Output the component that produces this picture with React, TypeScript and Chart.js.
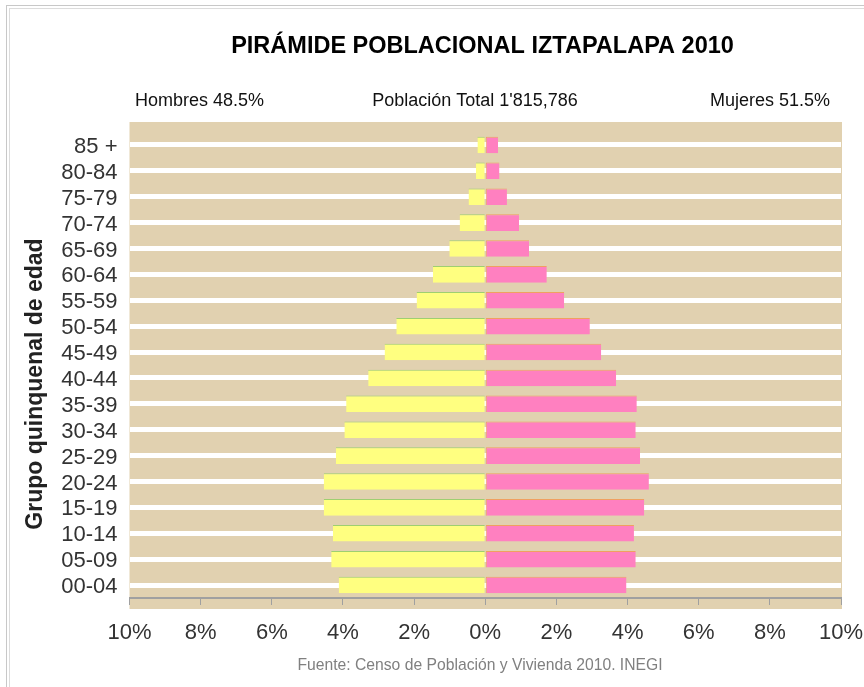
import React, { useEffect, useRef } from "react";
import { Chart, registerables } from "chart.js";

Chart.register(...registerables);

const AGE_GROUPS = [
  "85 +", "80-84", "75-79", "70-74", "65-69", "60-64", "55-59", "50-54", "45-49",
  "40-44", "35-39", "30-34", "25-29", "20-24", "15-19", "10-14", "05-09", "00-04",
];
// percent of total population
const HOMBRES = [0.22, 0.26, 0.47, 0.72, 1.01, 1.47, 1.93, 2.5, 2.83, 3.29, 3.91, 3.96, 4.2, 4.54, 4.54, 4.28, 4.33, 4.12];
const MUJERES = [0.36, 0.4, 0.61, 0.95, 1.23, 1.73, 2.22, 2.94, 3.26, 3.68, 4.26, 4.23, 4.35, 4.6, 4.47, 4.18, 4.23, 3.97];
const X_MIN = -10;
const X_MAX = 10;
const X_STEP = 2;

const TITLE = "PIRÁMIDE POBLACIONAL IZTAPALAPA 2010";
const LEFT_NOTE = "Hombres 48.5%";
const CENTER_NOTE = "Población Total 1'815,786";
const RIGHT_NOTE = "Mujeres 51.5%";
const Y_TITLE = "Grupo quinquenal de edad";
const SOURCE = "Fuente: Censo de Población y Vivienda 2010. INEGI";

const FONT = "'Liberation Sans', Arial, sans-serif";

const decorPlugin = {
  id: "decor",
  beforeDraw(chart: any) {
    const { ctx, chartArea } = chart;
    const { left, right, top, bottom } = chartArea;
    ctx.save();
    ctx.fillStyle = "#ffffff";
    ctx.fillRect(0, 0, chart.width, chart.height);
    // frame
    ctx.strokeStyle = "#c8c8c8";
    ctx.lineWidth = 1;
    ctx.strokeRect(6.5, 5.5, chart.width + 20, chart.height + 20);
    ctx.strokeStyle = "#dcdcdc";
    ctx.strokeRect(9.5, 8.5, chart.width + 20, chart.height + 20);
    // plot background
    ctx.fillStyle = "#e1d1b0";
    ctx.fillRect(left, top - 10, right - left + 1, bottom - top + 21);
    ctx.restore();
  },
  afterDraw(chart: any) {
    const { ctx } = chart;
    ctx.save();
    ctx.fillStyle = "#000";
    ctx.textBaseline = "middle";
    ctx.font = `bold 23.5px ${FONT}`;
    ctx.textAlign = "center";
    ctx.fillText(TITLE, 482.5, 47);
    ctx.font = `18px ${FONT}`;
    ctx.fillStyle = "#111";
    ctx.textAlign = "left";
    ctx.fillText(LEFT_NOTE, 135, 101);
    ctx.textAlign = "center";
    ctx.fillText(CENTER_NOTE, 475, 101);
    ctx.textAlign = "right";
    ctx.fillText(RIGHT_NOTE, 830, 101);
    // y title
    ctx.save();
    ctx.translate(36, 384);
    ctx.rotate(-Math.PI / 2);
    ctx.textAlign = "center";
    ctx.font = `bold 23px ${FONT}`;
    ctx.fillStyle = "#222";
    ctx.fillText(Y_TITLE, 0, 0);
    ctx.restore();
    // source
    ctx.font = `15.7px ${FONT}`;
    ctx.fillStyle = "#808080";
    ctx.textAlign = "center";
    ctx.fillText(SOURCE, 480, 666);
    ctx.restore();
  },
};

export default function App() {
  const ref = useRef<HTMLCanvasElement | null>(null);
  useEffect(() => {
    document.body.style.margin = "0";
    const canvas = ref.current;
    if (!canvas) return;
    const chart = new Chart(canvas, {
      type: "bar",
      data: {
        labels: AGE_GROUPS,
        datasets: [
          {
            label: "Hombres",
            data: HOMBRES.map((v) => -v),
            backgroundColor: "#ffff80",
            borderColor: "#9fcf70",
            borderWidth: { top: 1, right: 0, bottom: 0, left: 0 },
            borderSkipped: false,
          },
          {
            label: "Mujeres",
            data: MUJERES,
            backgroundColor: "#ff80c0",
            borderColor: "#f0a060",
            borderWidth: { top: 1, right: 0, bottom: 0, left: 1 },
            borderSkipped: false,
          },
        ],
      },
      options: {
        responsive: false,
        animation: false,
        indexAxis: "y",
        layout: { padding: { top: 132, right: 23, left: 0, bottom: 0 } },
        datasets: { bar: { barPercentage: 0.64, categoryPercentage: 1 } },
        plugins: {
          legend: { display: false },
          tooltip: { enabled: false },
          title: { display: false },
        },
        scales: {
          x: {
            stacked: true,
            min: X_MIN,
            max: X_MAX,
            afterFit: (s: any) => {
              s.height = 89;
              s.paddingLeft = 0;
              s.paddingRight = 0;
            },
            ticks: {
              stepSize: X_STEP,
              padding: 15,
              color: "#333",
              font: { family: FONT, size: 22 },
              callback: (v: any) => `${Math.abs(Number(v))}%`,
            },
            grid: {
              drawOnChartArea: false,
              drawTicks: true,
              tickLength: 7,
              color: "#a0a0a0",
              lineWidth: 1,
            },
            border: { display: true, color: "#a0a0a0", width: 2 },
          },
          y: {
            stacked: true,
            afterFit: (s: any) => {
              s.width = 129.5;
            },
            ticks: {
              autoSkip: false,
              padding: 12,
              labelOffset: 2,
              color: "#333",
              font: { family: FONT, size: 22 },
            },
            grid: {
              offset: false,
              drawTicks: false,
              color: "#ffffff",
              lineWidth: 5,
            },
            border: { display: false },
          },
        },
      },
      plugins: [decorPlugin],
    } as any);
    return () => chart.destroy();
  }, []);
  return (
    <div style={{ width: 864, height: 687 }}>
      <canvas ref={ref} width={864} height={687} />
    </div>
  );
}
